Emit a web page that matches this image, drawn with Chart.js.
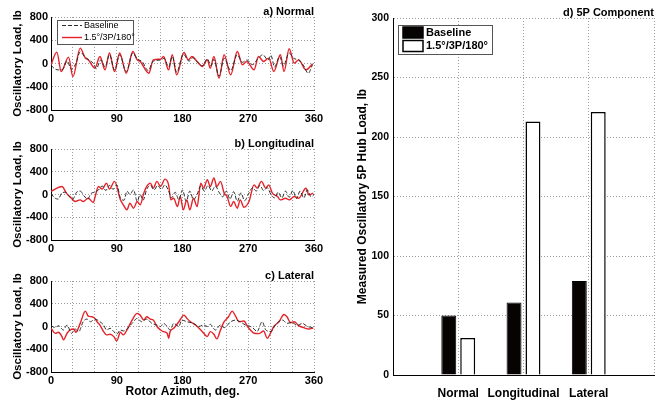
<!DOCTYPE html>
<html>
<head>
<meta charset="utf-8">
<script src="https://cdn.jsdelivr.net/npm/chart.js@4.4.0/dist/chart.umd.min.js"></script>
<style>
  body { margin: 0; background: #fff; width: 665px; height: 403px; position: relative; overflow: hidden; }
  canvas { position: absolute; }
</style>
</head>
<body>
<canvas id="normalChart" width="330" height="130" style="left:0;top:0"></canvas>
<canvas id="longChart" width="330" height="132" style="left:0;top:130px"></canvas>
<canvas id="latChart" width="330" height="141" style="left:0;top:262px"></canvas>
<canvas id="hubChart" width="325" height="403" style="left:340px;top:0"></canvas>
<script>
// [azimuth deg, load lb]
var normalBaseline = [[0,-30],[5,-90],[10,-110],[16,-100],[22,40],[28,-100],[34,0],[40,200],[46,120],[52,60],[58,0],[62,-90],[68,60],[74,-60],[80,150],[87,-110],[94,150],[103,-140],[112,180],[118,80],[125,30],[133,-120],[140,40],[150,60],[155,90],[161,-60],[166,120],[172,-150],[181,160],[189,40],[194,100],[200,30],[207,-40],[214,80],[219,-40],[223,70],[230,-220],[237,90],[246,-120],[255,150],[262,20],[268,60],[276,-20],[283,80],[290,150],[297,60],[301,140],[306,-60],[313,120],[318,-40],[326,180],[332,90],[339,60],[346,-40],[352,-170],[358,-20]];
var normalModified = [[0,-20],[8,195],[14,-138],[24,110],[30,-225],[40,265],[47,92],[51,63],[60,-80],[67,120],[74,-110],[80,180],[87,-138],[94,180],[103,-167],[112,207],[118,63],[122,35],[134,-167],[140,63],[150,75],[154,120],[161,-110],[166,150],[172,-196],[182,190],[188,63],[193,120],[200,35],[207,-52],[214,63],[218,-80],[223,120],[230,-253],[237,150],[246,-196],[255,207],[262,-23],[268,35],[278,-110],[284,120],[291,35],[298,92],[305,-138],[314,150],[319,-138],[326,253],[333,6],[339,63],[349,-110],[358,-6]];

var longBaseline = [[0,20],[5,-60],[10,-80],[15,30],[20,40],[25,-30],[30,-80],[35,40],[40,60],[45,-20],[50,-80],[55,20],[60,40],[65,80],[70,150],[75,70],[80,160],[85,90],[90,170],[95,-60],[100,-100],[104,60],[108,0],[113,80],[118,-120],[122,0],[126,-100],[131,90],[136,160],[141,80],[146,160],[151,90],[156,170],[161,60],[165,-60],[170,40],[175,-90],[180,80],[185,-120],[190,60],[195,-90],[200,0],[205,150],[210,60],[215,160],[220,60],[225,150],[230,40],[235,-40],[240,60],[245,-80],[250,50],[255,-120],[260,30],[265,-110],[270,0],[276,120],[281,60],[286,160],[291,70],[296,120],[301,0],[306,-60],[311,40],[316,-60],[321,60],[326,-50],[331,70],[336,-70],[341,60],[346,-60],[351,80],[356,-40],[360,0]];
var longModified = [[0,53],[15,141],[21,24],[28,-65],[33,-124],[40,-94],[44,-124],[51,-65],[58,-141],[60,-60],[65,141],[70,94],[76,200],[80,94],[87,230],[95,-94],[99,-182],[104,-270],[108,-153],[113,-241],[118,-124],[122,-182],[127,24],[131,141],[136,200],[140,112],[145,230],[150,141],[156,270],[161,170],[164,-94],[168,-65],[173,-212],[177,-35],[181,-270],[186,-94],[190,-270],[195,-65],[200,-212],[205,200],[209,112],[214,260],[218,141],[223,290],[227,141],[232,230],[237,24],[241,-35],[246,-212],[250,-124],[255,-241],[259,-94],[264,-224],[271,-124],[278,170],[282,112],[288,230],[294,112],[298,170],[303,24],[310,-35],[314,-94],[321,-65],[326,-94],[333,-35],[339,-65],[349,110],[353,-6],[359,24]];

var latBaseline = [[0,15],[6,-20],[10,15],[17,-61],[22,26],[28,-119],[33,-44],[38,-90],[44,84],[49,131],[54,84],[60,131],[67,84],[72,26],[76,-61],[81,-32],[86,-90],[90,-137],[95,-61],[99,-79],[111,55],[118,143],[124,84],[131,131],[138,55],[145,26],[150,0],[154,55],[159,0],[163,-61],[168,55],[175,0],[179,113],[186,84],[195,55],[202,0],[209,26],[214,0],[218,38],[225,-61],[232,26],[237,-20],[246,84],[253,113],[259,84],[266,26],[273,0],[278,-44],[282,-90],[289,84],[294,-61],[301,-90],[307,26],[317,113],[323,55],[330,73],[337,15],[344,55],[351,0],[359,-20]];
var latModified = [[0,-32],[6,-120],[10,-102],[15,-178],[17,-235],[22,-119],[26,-61],[31,-44],[34,-102],[40,55],[47,270],[51,183],[56,172],[60,143],[63,84],[67,26],[72,-90],[76,-148],[81,-137],[86,-178],[90,-253],[95,-102],[99,-148],[104,-61],[111,113],[118,230],[122,200],[127,113],[131,172],[136,131],[140,113],[145,0],[150,-61],[154,-90],[159,-119],[161,-207],[163,-90],[168,-32],[175,84],[182,200],[186,143],[191,84],[198,26],[205,-61],[209,-119],[214,-177],[218,-90],[223,-137],[227,-218],[232,-61],[237,84],[243,172],[248,270],[253,172],[257,84],[264,96],[269,0],[273,-61],[278,-119],[285,-125],[291,-79],[296,-207],[301,-102],[305,0],[312,84],[319,212],[323,172],[328,67],[333,84],[339,15],[346,-20],[353,-44],[359,-26]];

var hubCategories = ['Normal', 'Longitudinal', 'Lateral'];
var hubBaseline = [50, 61, 79];
var hubModified = [31, 213, 221];

var FONT = '"Liberation Sans", Arial, Helvetica, sans-serif';
Chart.defaults.font.family = FONT;
Chart.defaults.color = '#000';

// subplot caption, right aligned above the plot box
var panelTitle = {
  id: 'panelTitle',
  afterDraw: function(chart, args, opts) {
    var ctx = chart.ctx, a = chart.chartArea;
    ctx.save();
    ctx.font = 'bold 11px ' + FONT;
    ctx.fillStyle = '#000';
    ctx.textAlign = 'right';
    ctx.textBaseline = 'alphabetic';
    ctx.fillText(opts.text, a.right, a.top - 2);
    ctx.restore();
  }
};

// boxed legend drawn inside the plot area
var boxLegend = {
  id: 'boxLegend',
  afterDraw: function(chart, args, o) {
    var ctx = chart.ctx, a = chart.chartArea;
    var x = a.left + o.dx, y = a.top + o.dy;
    ctx.save();
    ctx.fillStyle = '#fff';
    ctx.fillRect(x, y, o.w, o.h);
    ctx.strokeStyle = '#555';
    ctx.lineWidth = 1;
    ctx.strokeRect(x + 0.5, y + 0.5, o.w, o.h);
    ctx.font = o.font;
    ctx.textBaseline = 'middle';
    chart.data.datasets.forEach(function(ds, i) {
      var cy = y + o.rows[i];
      if (o.kind === 'line') {
        ctx.strokeStyle = ds.borderColor;
        ctx.lineWidth = ds.borderWidth;
        ctx.setLineDash(ds.borderDash || []);
        ctx.beginPath();
        ctx.moveTo(x + o.sx, cy);
        ctx.lineTo(x + o.sx + o.sw, cy);
        ctx.stroke();
        ctx.setLineDash([]);
      } else {
        ctx.fillStyle = ds.backgroundColor;
        ctx.fillRect(x + o.sx, cy - 5.5, o.sw, 11);
        ctx.strokeStyle = ds.borderColor;
        ctx.lineWidth = 1.5;
        ctx.strokeRect(x + o.sx, cy - 5.5, o.sw, 11);
      }
      ctx.fillStyle = '#000';
      ctx.fillText(ds.label, x + o.tx, cy);
    });
    ctx.restore();
  }
};

var gridStyle = { color: '#9c9c9c', lineWidth: 1, drawTicks: false };
var borderStyle = { color: '#000', width: 1, dash: [1, 2] };

function toXY(pairs) {
  return pairs.map(function(p) { return { x: p[0], y: p[1] }; });
}

function loadPanel(id, title, baseline, modified, padTop, axisH, legend, showXTitle) {
  return new Chart(document.getElementById(id), {
    type: 'line',
    data: {
      datasets: [{
        label: 'Baseline',
        data: toXY(baseline),
        borderColor: '#2a2a2a',
        borderWidth: 1,
        borderDash: [4, 2],
        pointRadius: 0,
        cubicInterpolationMode: 'monotone'
      }, {
        label: '1.5°/3P/180°',
        data: toXY(modified),
        borderColor: '#e62229',
        borderWidth: 1.4,
        pointRadius: 0,
        cubicInterpolationMode: 'monotone'
      }]
    },
    options: {
      responsive: false,
      animation: false,
      layout: { padding: { top: padTop, right: 16, left: 0, bottom: 0 } },
      plugins: {
        legend: { display: false },
        tooltip: { enabled: false },
        panelTitle: { text: title },
        boxLegend: legend
      },
      scales: {
        x: {
          type: 'linear', min: 0, max: 360,
          afterFit: function(s) { s.height = axisH; },
          ticks: {
            stepSize: 30, autoSkip: false, maxRotation: 0, padding: 2,
            font: { size: 11, weight: 'bold' },
            callback: function(v) { return v % 90 === 0 ? v : ''; }
          },
          grid: gridStyle,
          border: borderStyle,
          title: {
            display: showXTitle, text: 'Rotor Azimuth, deg.',
            font: { size: 12, weight: 'bold' }, padding: { top: 0, bottom: 4 }
          }
        },
        y: {
          min: -800, max: 800,
          afterFit: function(s) { s.width = 51; },
          ticks: { stepSize: 400, padding: 3, font: { size: 11, weight: 'bold' } },
          grid: gridStyle,
          border: borderStyle,
          title: {
            display: true, text: 'Oscillatory Load, lb',
            font: { size: 11.5, weight: 'bold' }, padding: { top: 11, bottom: 0 }
          }
        }
      }
    },
    plugins: [panelTitle, boxLegend]
  });
}

loadPanel('normalChart', 'a) Normal', normalBaseline, normalModified, 17, 20,
  { kind: 'line', dx: 6, dy: 3, w: 76, h: 24, rows: [5.5, 17.5], sx: 5, sw: 20, tx: 27, font: '9px ' + FONT }, false);
loadPanel('longChart', 'b) Longitudinal', longBaseline, longModified, 19, 22, false, false);
loadPanel('latChart', 'c) Lateral', latBaseline, latModified, 19, 31, false, true);

// 5P component bars, padded with empty slots at both ends
var hubLabels = [''].concat(hubCategories, ['']);
new Chart(document.getElementById('hubChart'), {
  type: 'bar',
  data: {
    labels: hubLabels,
    datasets: [{
      label: 'Baseline',
      data: [null].concat(hubBaseline, [null]),
      backgroundColor: '#080303',
      borderColor: '#000',
      borderWidth: 1
    }, {
      label: '1.5°/3P/180°',
      data: [null].concat(hubModified, [null]),
      backgroundColor: '#fff',
      borderColor: '#000',
      borderWidth: 1.5
    }]
  },
  options: {
    responsive: false,
    animation: false,
    layout: { padding: { top: 18, right: 10, left: 0, bottom: 0 } },
    datasets: { bar: { categoryPercentage: 0.58, barPercentage: 0.79 } },
    plugins: {
      legend: { display: false },
      tooltip: { enabled: false },
      panelTitle: { text: 'd) 5P Component' },
      boxLegend: { kind: 'bar', dx: 5, dy: 7, w: 94, h: 29, rows: [7.5, 21], sx: 5, sw: 20, tx: 28, font: 'bold 11px ' + FONT }
    },
    scales: {
      x: {
        offset: false,
        afterFit: function(s) { s.height = 28; },
        ticks: { autoSkip: false, maxRotation: 0, padding: 11, font: { size: 12, weight: 'bold' } },
        grid: { color: '#9c9c9c', lineWidth: 1, drawTicks: false, offset: false },
        border: borderStyle
      },
      y: {
        min: 0, max: 300,
        afterFit: function(s) { s.width = 53; },
        ticks: { stepSize: 50, padding: 4, font: { size: 10.5, weight: 'bold' } },
        grid: gridStyle,
        border: borderStyle,
        title: {
          display: true, text: 'Measured Oscillatory 5P Hub Load, lb',
          font: { size: 12, weight: 'bold' }, padding: { top: 15, bottom: 0 }
        }
      }
    }
  },
  plugins: [panelTitle, boxLegend]
});
</script>
</body>
</html>
